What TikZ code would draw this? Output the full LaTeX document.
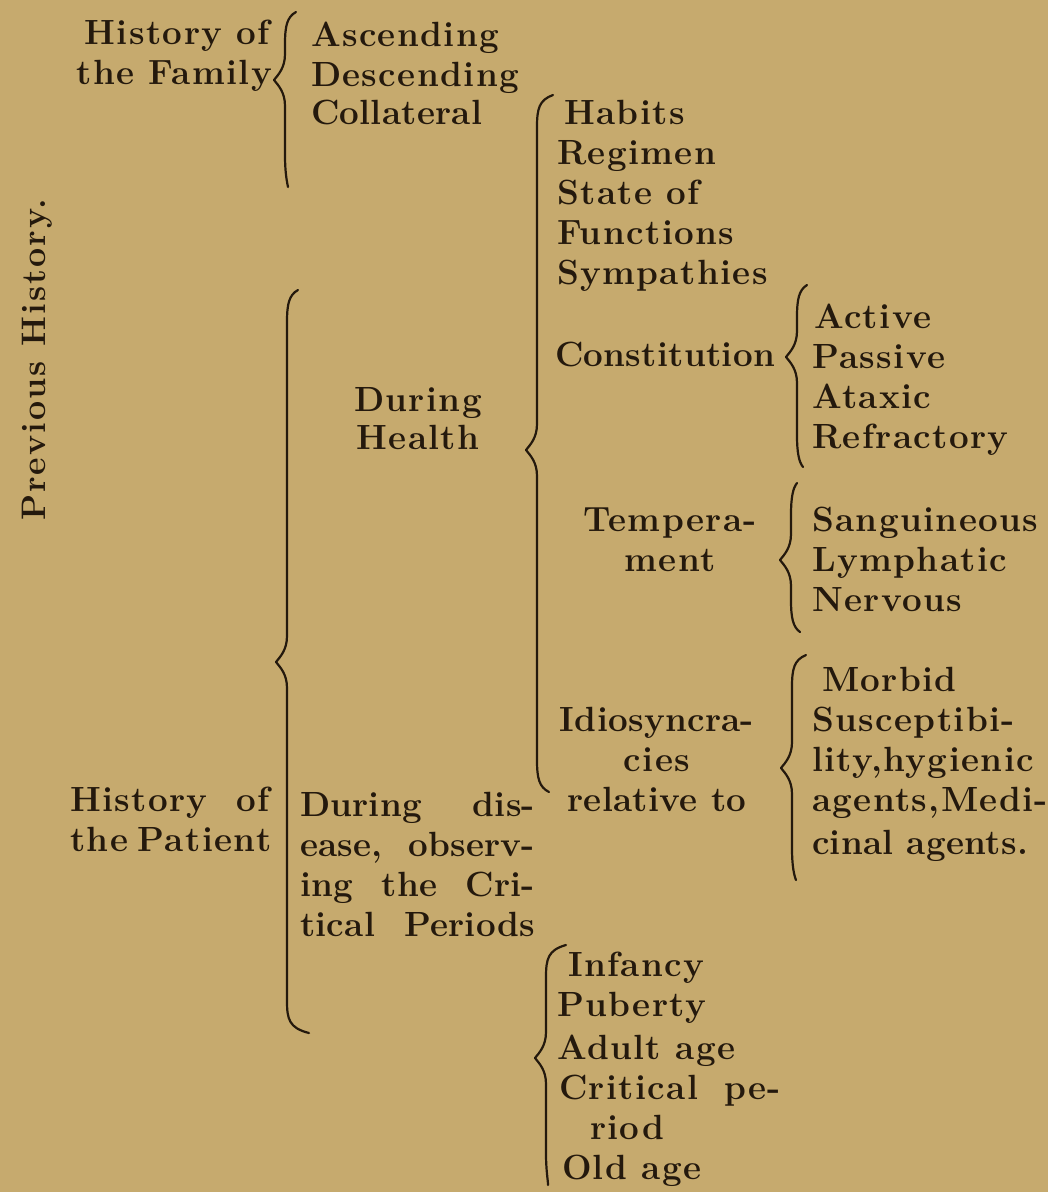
\documentclass[tikz,border=0pt]{standalone}
\usepackage{fontspec}
\setmainfont{Latin Modern Roman}[LetterSpace=4]
\newfontfamily\tightfont{Latin Modern Roman}[LetterSpace=0.8]
\newfontfamily\vertfont{Latin Modern Roman}[LetterSpace=6]
\definecolor{paper}{RGB}{198,170,110}
\definecolor{ink}{RGB}{36,25,13}
% brace: x of stem, y top, y cusp, y bottom, top hook dx, bottom hook dx
\newcommand\Brc[6]{%
  \draw[brc] ({#1+#5},{#2}) .. controls ({#1+2},{#2+5}) and ({#1},{#2+14}) .. ({#1},{#2+32})
    -- ({#1},{#3-26}) .. controls ({#1},{#3-12}) and ({#1-7},{#3-5}) .. ({#1-11},{#3})
    .. controls ({#1-7},{#3+5}) and ({#1},{#3+12}) .. ({#1},{#3+26})
    -- ({#1},{#4-32}) .. controls ({#1},{#4-14}) and ({#1+2},{#4-5}) .. ({#1+#6},{#4});}
\begin{document}
\begin{tikzpicture}[x=1pt,y=-1pt,
  txt/.style={inner sep=0pt, outer sep=0pt, text=ink,
    font=\fontsize{35}{40}\selectfont\bfseries},
  tight/.style={font=\fontsize{35}{40}\selectfont\tightfont\bfseries},
  L/.style={txt, anchor=base west},
  R/.style={txt, anchor=base east},
  C/.style={txt, anchor=base},
  brc/.style={draw=ink, line width=2.2pt, line cap=round, line join=round}]
\fill[paper] (0,0) rectangle (1048,1192);
\useasboundingbox (0,0) rectangle (1048,1192);

% vertical title
\node[txt, rotate=90, font=\fontsize{34}{40}\selectfont\vertfont\bfseries] (prev) at (37,360) {Previous History.};

% History of the Family
\node[R] (fam1) at (270,44) {History of};
\node[R] (fam2) at (272,84) {the Family};
\Brc{285}{12}{80}{187}{11}{3}
\node[L] (asc) at (311,46) {Ascending};
\node[L] (desc) at (311,86) {Descending};
\node[L, tight] (coll) at (311,124) {Collateral};

% During health column
\Brc{537}{95}{450}{792}{16}{12}
\node[L] (hab) at (564,124) {Habits};
\node[L] (reg) at (557,164) {Regimen};
\node[L] (sta) at (557,204) {State of};
\node[L] (fun) at (557,244) {Functions};
\node[L] (sym) at (557,284) {Sympathies};
\node[L, tight] (con) at (555,366) {Constitution};
\Brc{797}{285}{357}{467}{10}{6}
\node[L] (act) at (814,328) {Active};
\node[L] (pas) at (812,368) {Passive};
\node[L] (ata) at (812,408) {Ataxic};
\node[L] (ref) at (812,448) {Refractory};

\node[C] (tem1) at (670,531) {Tempera-};
\node[C] (tem2) at (670,571) {ment};
\Brc{791}{483}{560}{632}{6}{9}
\node[L] (san) at (812,531) {Sanguineous};
\node[L] (lym) at (812,571) {Lymphatic};
\node[L] (ner) at (812,611) {Nervous};

\node[C, tight] (idi1) at (657,731) {Idiosyncra-};
\node[C] (idi2) at (657,771) {cies};
\node[C, tight] (idi3) at (657,811) {relative to};
\Brc{792}{655}{768}{880}{14}{4}
\node[L] (mor) at (822,691) {Morbid};
\node[L] (sus) at (812,731) {Susceptibi-};
\node[L] (lit) at (812,771) {lity,hygienic};
\node[L] (age) at (812,811) {agents,Medi-};
\node[L, tight] (cin) at (812,854) {cinal agents.};

% History of the Patient
\Brc{287}{290}{662}{1033}{11}{22}
\node[C] (dur1) at (418,411) {During};
\node[C] (dur2) at (418,449) {Health};
\node[R] (pat1) at (270,811) {\makebox[200pt][s]{History of}};
\node[R] (pat2) at (270,851) {\makebox[200pt][s]{the Patient}};
\node[L, tight] (dis1) at (300,816) {\makebox[235pt][s]{During dis-}};
\node[L, tight] (dis2) at (300,856) {\makebox[235pt][s]{ease, observ-}};
\node[L, tight] (dis3) at (300,896) {\makebox[235pt][s]{ing the Cri-}};
\node[L, tight] (dis4) at (300,936) {\makebox[235pt][s]{tical Periods}};

\Brc{546}{945}{1058}{1185}{20}{2}
\node[L] (inf) at (568,976) {Infancy};
\node[L] (pub) at (557,1016) {Puberty};
\node[L] (adu) at (557,1059) {Adult age};
\node[L] (cri) at (559,1099) {\makebox[222pt][s]{Critical pe-}};
\node[L] (rio) at (590,1139) {riod};
\node[L] (old) at (562,1179) {Old age};
\end{tikzpicture}
\end{document}
